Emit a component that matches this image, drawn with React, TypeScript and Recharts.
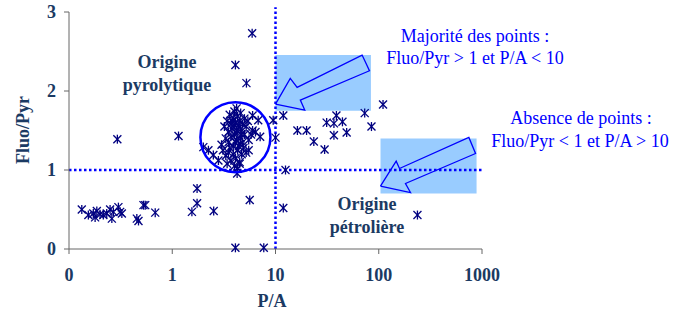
import React from 'react';
import { ScatterChart, Scatter, XAxis, YAxis, ReferenceLine, ReferenceArea, ReferenceDot } from 'recharts';

// P/A (x) and Fluo/Pyr (y) values
const lowLeftPoints: [number, number][] = [
  [0.133, 0.5], [0.154, 0.43], [0.172, 0.45], [0.179, 0.4], [0.186, 0.48], [0.2, 0.44],
  [0.215, 0.43], [0.232, 0.45], [0.25, 0.5], [0.26, 0.385], [0.269, 0.47], [0.301, 0.53],
  [0.313, 0.47], [0.325, 0.45], [0.454, 0.385], [0.471, 0.355], [0.526, 0.555], [0.547, 0.555],
  [0.684, 0.46], [1.55, 0.47], [1.74, 0.58], [1.74, 0.765], [2.52, 0.48], [5.63, 0.62],
  [4.09, 0.015], [7.7, 0.015], [4.25, 0.955], [0.294, 1.39], [1.15, 1.43],
];

const clusterPoints: [number, number][] = [
  [3.2, 1.55], [3.4, 1.62], [3.5, 1.48], [3.6, 1.7], [3.7, 1.58], [3.8, 1.52], [3.9, 1.66],
  [4.0, 1.74], [4.1, 1.6], [4.2, 1.5], [4.3, 1.68], [4.4, 1.56], [4.5, 1.62], [4.6, 1.72],
  [4.7, 1.45], [4.8, 1.58], [5.0, 1.65], [5.2, 1.55], [5.4, 1.62], [3.3, 1.4], [3.5, 1.35],
  [3.7, 1.42], [3.9, 1.3], [4.0, 1.45], [4.2, 1.38], [4.4, 1.3], [4.6, 1.4], [4.8, 1.35],
  [5.0, 1.45], [5.5, 1.38], [5.8, 1.45], [6.0, 1.5], [6.4, 1.48], [7.1, 1.42], [6.8, 1.63],
  [6.0, 1.69], [3.1, 1.25], [3.3, 1.18], [3.5, 1.22], [3.7, 1.12], [3.9, 1.2], [4.1, 1.15],
  [4.3, 1.25], [4.5, 1.1], [4.7, 1.2], [4.9, 1.28], [5.2, 1.22], [4.0, 1.05], [4.3, 1.02],
  [4.5, 1.08], [2.8, 1.12], [2.5, 1.19], [2.24, 1.25], [2.0, 1.29], [3.0, 1.32], [3.6, 1.28],
  [4.1, 1.35], [4.6, 1.52], [3.8, 1.62], [4.2, 1.78], [5.5, 1.25], [3.4, 1.08], [4.25, 1.47],
  [3.95, 1.57], [4.55, 1.33],
];

const upperPoints: [number, number][] = [
  [5.94, 2.73], [4.09, 2.33], [5.23, 2.1], [11.9, 1.69], [9.5, 1.63], [10.0, 1.41],
  [16.3, 1.5], [20.0, 1.5], [23.5, 1.36], [29.9, 1.26], [31.3, 1.6], [36.8, 1.59],
  [38.9, 1.69], [36.8, 1.44], [44.5, 1.61], [48.9, 1.475], [73.1, 1.72], [85, 1.55],
  [110, 1.83], [12.5, 1.0], [11.9, 0.52], [237, 0.43],
];

// annotation outline shapes (arrows) in data coordinates
const arrow1: [number, number][] = [
  [10, 1.834], [13.9, 2.16], [16.2, 2.046], [69, 2.455], [81.3, 2.256], [17.4, 1.885], [19.2, 1.759], [10, 1.834],
];
const arrow2: [number, number][] = [
  [103.9, 0.795], [147.5, 1.112], [158.8, 1.019], [746, 1.412], [866, 1.209], [181.5, 0.829], [203, 0.715], [103.9, 0.795],
];

const xTicks = [0.1, 1, 10, 100, 1000];
const yTicks = [0, 1, 2, 3];

const toObj = (a: [number, number][]) => a.map(([x, y]) => ({ x, y }));
const allPoints = toObj([...lowLeftPoints, ...clusterPoints, ...upperPoints]);

const NAVY = '#1B3A63';
const BLUE = '#0000FF';
const FONT = 'Liberation Serif, serif';

const Asterisk = (props: any) => {
  const { cx, cy } = props;
  if (cx == null || cy == null) return <g />;
  const s = 4;
  return (
    <g stroke="#000080" strokeWidth={1.3}>
      <line x1={cx - s} y1={cy - s} x2={cx + s} y2={cy + s} />
      <line x1={cx - s} y1={cy + s} x2={cx + s} y2={cy - s} />
      <line x1={cx} y1={cy - s - 0.5} x2={cx} y2={cy + s + 0.5} />
    </g>
  );
};

const Nothing = () => <g />;

const tickStyle = { fill: NAVY, fontSize: 18, fontWeight: 'bold', fontFamily: FONT, style: { fontFamily: FONT } };

export default function App() {
  return (
    <div style={{ position: 'absolute', left: 0, top: 0, width: 675, height: 315, background: '#fff', fontFamily: FONT }}>
      <ScatterChart width={675} height={315} margin={{ top: 12, right: 193, bottom: 26, left: 9 }} style={{ fontFamily: FONT }}>
        <XAxis
          type="number"
          dataKey="x"
          scale="log"
          domain={[0.1, 1000]}
          ticks={xTicks}
          allowDataOverflow
          height={40}
          tickFormatter={(v: number) => (v < 1 ? '0' : String(v))}
          tick={tickStyle}
          tickSize={5}
          tickMargin={14}
          stroke="#666"
        />
        <YAxis
          type="number"
          dataKey="y"
          domain={[0, 3]}
          ticks={yTicks}
          width={60}
          tick={tickStyle}
          tickSize={5}
          tickMargin={8}
          stroke="#666"
        />
        <ReferenceArea x1={10} x2={84} y1={1.75} y2={2.455} fill="#99CCFF" fillOpacity={1} stroke="none" />
        <ReferenceArea x1={104} x2={886} y1={0.702} y2={1.399} fill="#99CCFF" fillOpacity={1} stroke="none" />
        <ReferenceLine
          segment={[{ x: 10, y: 0 }, { x: 10, y: 3.06 }]}
          ifOverflow="visible"
          stroke={BLUE}
          strokeWidth={2.5}
          strokeDasharray="2.5 2.5"
        />
        <ReferenceLine
          segment={[{ x: 0.1, y: 1 }, { x: 1000, y: 1 }]}
          ifOverflow="visible"
          stroke={BLUE}
          strokeWidth={2.5}
          strokeDasharray="2.5 2.5"
        />
        <Scatter data={allPoints} shape={Asterisk} isAnimationActive={false} />
        <Scatter
          data={toObj(arrow1)}
          shape={Nothing}
          line={{ stroke: BLUE, strokeWidth: 1.3, fill: 'none' }}
          lineType="joint"
          isAnimationActive={false}
        />
        <Scatter
          data={toObj(arrow2)}
          shape={Nothing}
          line={{ stroke: BLUE, strokeWidth: 1.3, fill: 'none' }}
          lineType="joint"
          isAnimationActive={false}
        />
        <ReferenceDot x={4.09} y={1.415} r={35} fill="none" stroke={BLUE} strokeWidth={2.5} />
      </ScatterChart>
      <svg width={675} height={315} style={{ position: 'absolute', left: 0, top: 0, pointerEvents: 'none', fontFamily: FONT }}>
        <g style={{ fontFamily: FONT, fontSize: 18, fontWeight: 'bold' }} fill={NAVY} textAnchor="middle">
          <text x={167} y={68}>Origine</text>
          <text x={167} y={91}>pyrolytique</text>
          <text x={367} y={210}>Origine</text>
          <text x={367} y={233}>pétrolière</text>
          <text x={272} y={307}>P/A</text>
          <text x={0} y={0} transform="translate(29,130) rotate(-90)">Fluo/Pyr</text>
        </g>
        <g style={{ fontFamily: FONT, fontSize: 18 }} fill={BLUE} textAnchor="middle">
          <text x={475} y={41.5}>Majorité des points :</text>
          <text x={475} y={63.5}>Fluo/Pyr &gt; 1 et P/A &lt; 10</text>
          <text x={581} y={124}>Absence de points :</text>
          <text x={580} y={146.5}>Fluo/Pyr &lt; 1 et P/A &gt; 10</text>
        </g>
      </svg>
    </div>
  );
}
